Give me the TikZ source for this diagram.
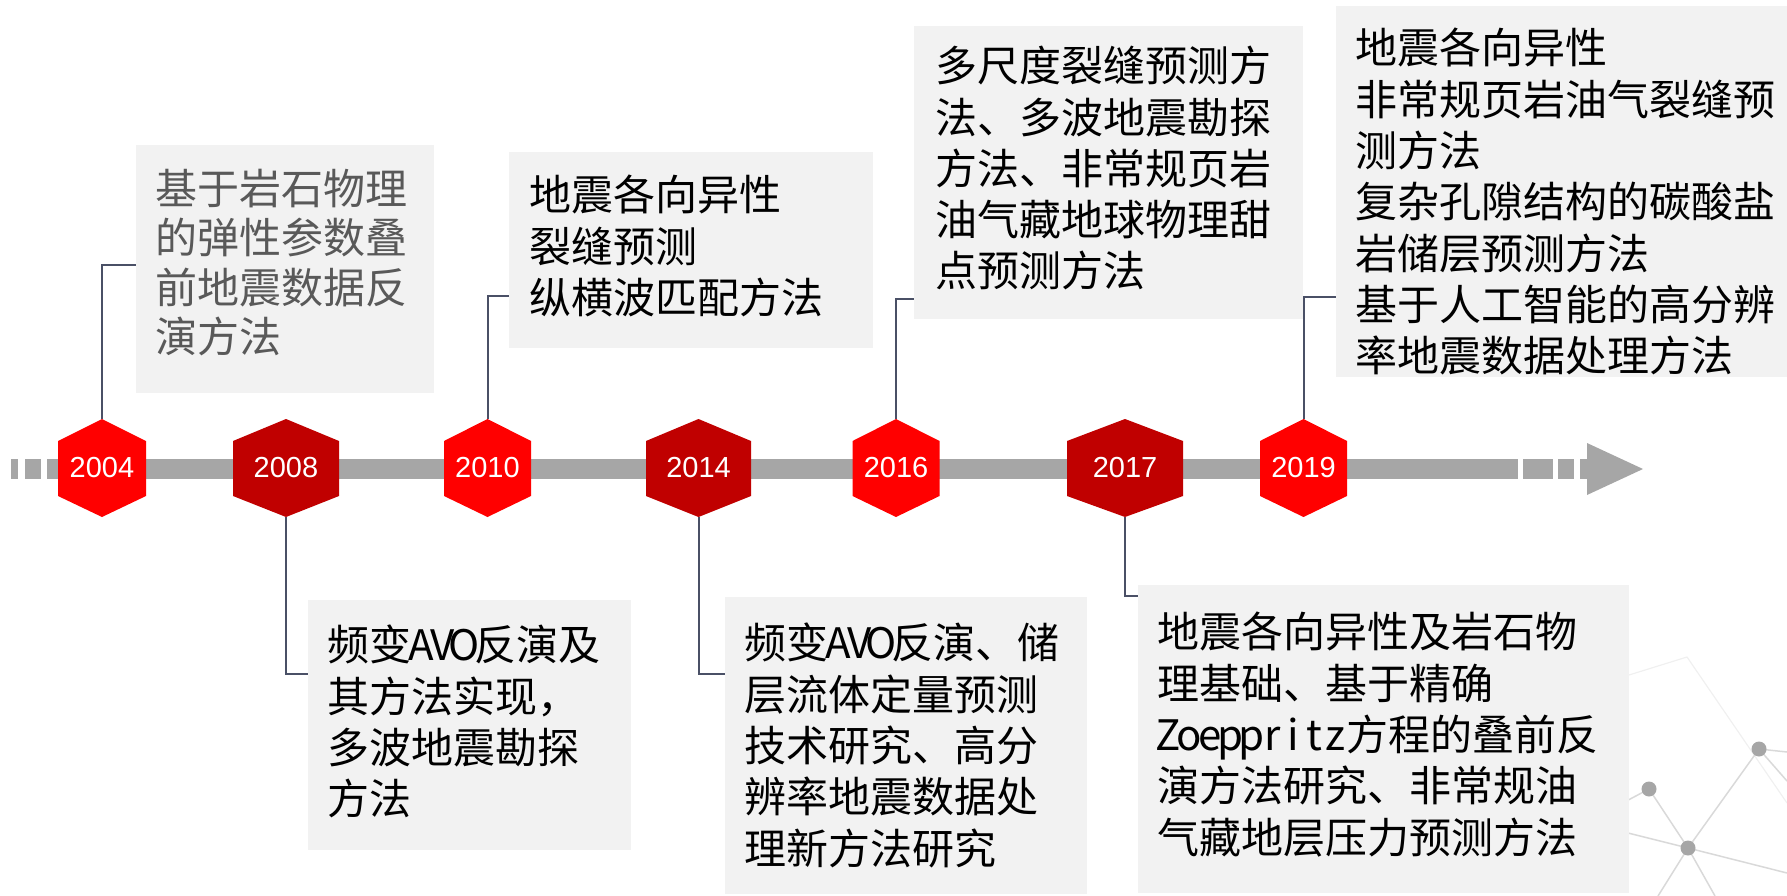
\documentclass[tikz,border=0pt]{standalone}
\usepackage{fontspec}
\newfontfamily\cjkfont{Noto Sans CJK SC}
\newfontfamily\yearfont{Liberation Sans}
\usetikzlibrary{calc}
\definecolor{bargray}{HTML}{A6A6A6}
\definecolor{hexred}{HTML}{FF0000}
\definecolor{hexdark}{HTML}{C00000}
\definecolor{boxfill}{HTML}{F2F2F2}
\definecolor{connc}{HTML}{4A5066}
\definecolor{txtgray}{HTML}{595959}
\definecolor{netline}{HTML}{D9D9D9}
\definecolor{netfaint}{HTML}{F0F0F0}
\definecolor{netdot}{HTML}{A6A6A6}
\newcommand\hw[1]{\makebox[21pt]{#1}}
\newcommand\yearhex[5]{%
  \fill[#4] (#2,419) -- (#2+#3/2,441) -- (#2+#3/2,496) -- (#2,517) -- (#2-#3/2,496) -- (#2-#3/2,441) -- cycle;
  \node[yearlabel, minimum width=#3] (#1) at (#2,468) {#5};
}
\begin{document}
\begin{tikzpicture}[x=1pt,y=-1pt,
  yearlabel/.style={inner sep=0, minimum height=98, text=white, font=\yearfont\fontsize{29}{29}\selectfont},
  infobox/.style={fill=boxfill, inner sep=0, anchor=north west},
  infotext/.style={inner sep=0, anchor=north west, align=left, font=\cjkfont\fontsize{42}{51.3}\selectfont},
  conn/.style={draw=connc, line width=2pt},
  netl/.style={draw=netline, line width=1.5pt},
  netf/.style={draw=netfaint, line width=1.2pt},
  netd/.style={fill=netdot}
]
\useasboundingbox (0,0) rectangle (1787,896);

% background network decoration
\draw[netf] (1629,675) -- (1687,657) -- (1787,803);
\draw[netl] (1600,815) -- (1649,789) -- (1688,848) -- (1759,749) -- (1787,752);
\draw[netl] (1759,749) -- (1787,781);
\draw[netl] (1600,826) -- (1688,848) -- (1787,873);
\draw[netl] (1658,896) -- (1688,848) -- (1715,896);
\fill[netd] (1649,789) circle (7.5);
\fill[netd] (1688,848) circle (7.5);
\fill[netd] (1759,749) circle (7.5);

% timeline bar
\fill[bargray] (11,459) rectangle (18,479);
\fill[bargray] (25,459) rectangle (41,479);
\fill[bargray] (47,459) rectangle (1518,479);
\fill[bargray] (1523,459) rectangle (1553,479);
\fill[bargray] (1558,459) rectangle (1574,479);
\fill[bargray] (1580,459) rectangle (1588,479);
\fill[bargray] (1587,443) -- (1643,469) -- (1587,495) -- cycle;

% year hexagons
\yearhex{y2004}{102}{88}{hexred}{2004}
\yearhex{y2008}{286}{106}{hexdark}{2008}
\yearhex{y2010}{487.5}{87}{hexred}{2010}
\yearhex{y2014}{698.5}{105}{hexdark}{2014}
\yearhex{y2016}{896}{87}{hexred}{2016}
\yearhex{y2017}{1125}{116}{hexdark}{2017}
\yearhex{y2019}{1303.5}{87}{hexred}{2019}

% boxes
\node[infobox, minimum width=298, minimum height=248] (b2004) at (136,145) {};
\node[infobox, minimum width=364, minimum height=196] (b2010) at (509,152) {};
\node[infobox, minimum width=389, minimum height=293] (b2016) at (914,26) {};
\node[infobox, minimum width=451, minimum height=371] (b2019) at (1336,6) {};
\node[infobox, minimum width=323, minimum height=250] (b2008) at (308,600) {};
\node[infobox, minimum width=362, minimum height=297] (b2014) at (725,597) {};
\node[infobox, minimum width=491, minimum height=308] (b2017) at (1138,585) {};

% texts
\node[infotext, text=txtgray, font=\cjkfont\fontsize{42}{49.3}\selectfont] (t2004) at (155,169)
  {基于岩石物理\\的弹性参数叠\\前地震数据反\\演方法};
\node[infotext] (t2010) at (529,175)
  {地震各向异性\\裂缝预测\\纵横波匹配方法};
\node[infotext] (t2016) at (935,46)
  {多尺度裂缝预测方\\法、多波地震勘探\\方法、非常规页岩\\油气藏地球物理甜\\点预测方法};
\node[infotext] (t2019) at (1355,28)
  {地震各向异性\\非常规页岩油气裂缝预\\测方法\\复杂孔隙结构的碳酸盐\\岩储层预测方法\\基于人工智能的高分辨\\率地震数据处理方法};
\node[infotext] (t2008) at (327,625)
  {频变\hw{A}\hw{V}\hw{O}反演及\\其方法实现，\\多波地震勘探\\方法};
\node[infotext] (t2014) at (744,623)
  {频变\hw{A}\hw{V}\hw{O}反演、储\\层流体定量预测\\技术研究、高分\\辨率地震数据处\\理新方法研究};
\node[infotext] (t2017) at (1157,612)
  {地震各向异性及岩石物\\理基础、基于精确\\\hw{Z}\hw{o}\hw{e}\hw{p}\hw{p}\hw{r}\hw{i}\hw{t}\hw{z}方程的叠前反\\演方法研究、非常规油\\气藏地层压力预测方法};

% connectors
\draw[conn] (y2004.north) |- ([yshift=-120]b2004.north west);
\draw[conn] (y2010.north) |- ([yshift=-144]b2010.north west);
\draw[conn] (y2016.north) |- ([yshift=-273]b2016.north west);
\draw[conn] (y2019.north) |- ([yshift=-291]b2019.north west);
\draw[conn] (y2008.south) |- ([yshift=-74]b2008.north west);
\draw[conn] (y2014.south) |- ([yshift=-77]b2014.north west);
\draw[conn] (y2017.south) |- ([yshift=-11]b2017.north west);
\end{tikzpicture}
\end{document}
